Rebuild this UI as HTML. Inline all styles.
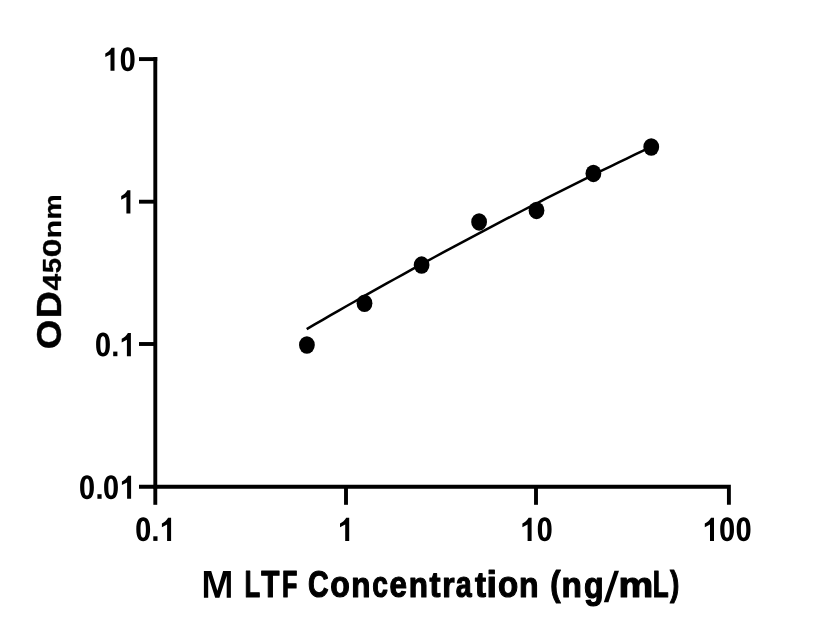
<!DOCTYPE html>
<html>
<head>
<meta charset="utf-8">
<style>
html,body{margin:0;padding:0;background:#fff;}
body{width:816px;height:640px;overflow:hidden;}
svg{display:block;will-change:transform;}
text{font-family:"Liberation Sans",sans-serif;font-weight:bold;fill:#000;}
</style>
</head>
<body>
<svg width="816" height="640" viewBox="0 0 816 640">
<defs>
  <path id="g0" fill-rule="evenodd" d="M0,-11.6 C0,-20.3 2.7,-23.6 6.9,-23.6 C11.1,-23.6 13.8,-20.3 13.8,-11.6 C13.8,-2.9 11.1,0.4 6.9,0.4 C2.7,0.4 0,-2.9 0,-11.6 Z M4.2,-11.6 C4.2,-17.8 5.1,-20.0 6.9,-20.0 C8.7,-20.0 9.6,-17.8 9.6,-11.6 C9.6,-5.4 8.7,-3.2 6.9,-3.2 C5.1,-3.2 4.2,-5.4 4.2,-11.6 Z"/>
  <path id="g1" d="M9.2,0 H5.2 V-16.4 L0,-13.7 V-17.4 C2.2,-18.4 5.0,-20.6 6.2,-23.1 H9.2 Z"/>
  <rect id="gd" x="0" y="-4.6" width="4.2" height="4.6"/>
</defs>
<rect width="816" height="640" fill="#fff"/>
<g stroke="#000" stroke-width="3.9" fill="none" stroke-linecap="butt">
  <path d="M155.3 57.1 V488.7"/>
  <path d="M139 486.7 H728.9 V504.8"/>
  <path d="M139 59.1 H157.2"/>
  <path d="M139 201.7 H155.3"/>
  <path d="M139 344 H155.3"/>
  <path d="M155.3 486.7 V504.8"/>
  <path d="M346 486.7 V504.8"/>
  <path d="M536 486.7 V504.8"/>
</g>
<polyline fill="none" stroke="#000" stroke-width="2.5" points="306.7,329.1 314.7,324.4 322.7,319.8 330.7,315.2 338.7,310.6 346.7,306.0 354.7,301.5 362.7,296.9 370.7,292.4 378.7,287.9 386.7,283.4 394.7,279.0 402.7,274.6 410.7,270.1 418.7,265.7 426.7,261.4 434.7,257.0 442.7,252.7 450.7,248.4 458.7,244.1 466.7,239.8 474.7,235.6 482.7,231.3 490.7,227.1 498.7,222.9 506.7,218.7 514.7,214.6 522.7,210.5 530.7,206.3 538.7,202.3 546.7,198.2 554.7,194.1 562.7,190.1 570.7,186.1 578.7,182.1 586.7,178.1 594.7,174.2 602.7,170.2 610.7,166.3 618.7,162.4 626.7,158.6 634.7,154.7 642.7,150.9 650.7,147.1 651.2,146.8"/>
<g fill="#000">
  <ellipse cx="306.9" cy="345.0" rx="7.9" ry="8.75"/>
  <ellipse cx="364.5" cy="303.3" rx="7.9" ry="8.75"/>
  <ellipse cx="421.6" cy="265.1" rx="7.9" ry="8.75"/>
  <ellipse cx="479.1" cy="221.9" rx="7.9" ry="8.75"/>
  <ellipse cx="536.5" cy="210.4" rx="7.9" ry="8.75"/>
  <ellipse cx="593.4" cy="173.4" rx="7.9" ry="8.75"/>
  <ellipse cx="651.25" cy="147.0" rx="7.9" ry="8.75"/>
</g>
<g fill="#000">
  <use href="#g1" x="105.3" y="70.8"/>
  <use href="#g0" x="120.8" y="70.8"/>
  <use href="#g1" x="121.2" y="213.4"/>
  <use href="#g0" x="96.1" y="356.2"/>
  <use href="#gd" x="113.2" y="356.2"/>
  <use href="#g1" x="121.7" y="356.2"/>
  <use href="#g0" x="80.1" y="498.8"/>
  <use href="#gd" x="97.4" y="498.8"/>
  <use href="#g0" x="104.1" y="498.8"/>
  <use href="#g1" x="121.9" y="498.8"/>
  <use href="#g0" x="136.3" y="540.9"/>
  <use href="#gd" x="153.3" y="540.9"/>
  <use href="#g1" x="161.9" y="540.9"/>
  <use href="#g1" x="340.0" y="540.9"/>
  <use href="#g1" x="522.4" y="540.9"/>
  <use href="#g0" x="537.8" y="540.9"/>
  <use href="#g1" x="704.8" y="540.9"/>
  <use href="#g0" x="720.2" y="540.9"/>
  <use href="#g0" x="736.7" y="540.9"/>
</g>
<g font-size="37.2" stroke="#000" stroke-width="1.2" stroke-linejoin="round">
  <text transform="translate(244.60 597.10) scale(0.6900 1.0003)">L</text>
  <text transform="translate(261.35 597.10) scale(0.8007 1.0003)">T</text>
  <text transform="translate(281.92 597.10) scale(0.6775 1.0003)">F</text>
  <text transform="translate(308.09 597.23) scale(0.7680 1.0095)">C</text>
  <text transform="translate(330.17 597.26) scale(0.8612 0.9731)">o</text>
  <text transform="translate(351.33 597.23) scale(0.8453 0.9466)">n</text>
  <text transform="translate(372.25 597.26) scale(0.7599 0.9731)">c</text>
  <text transform="translate(389.38 597.26) scale(0.8453 0.9731)">e</text>
  <text transform="translate(408.63 597.23) scale(0.8453 0.9466)">n</text>
  <text transform="translate(429.43 597.23) scale(0.8912 0.9421)">t</text>
  <text transform="translate(442.32 597.23) scale(0.8530 0.9466)">r</text>
  <text transform="translate(455.82 597.26) scale(0.7701 0.9731)">a</text>
  <text transform="translate(474.93 597.23) scale(0.8912 0.9421)">t</text>
  <text transform="translate(486.47 597.10) scale(1.0152 1.0051)">i</text>
  <text transform="translate(498.04 597.26) scale(0.8898 0.9731)">o</text>
  <text transform="translate(518.91 597.23) scale(0.8610 0.9466)">n</text>
  <text transform="translate(550.35 596.38) scale(0.8377 0.9282)">(</text>
  <text transform="translate(561.44 597.23) scale(0.8975 0.9466)">n</text>
  <text transform="translate(583.90 598.15) scale(0.8639 0.9959)">g</text>
  <text transform="translate(618.45 597.23) scale(1.0502 0.9466)">m</text>
  <text transform="translate(652.78 597.10) scale(0.6998 1.0003)">L</text>
  <text transform="translate(670.02 596.38) scale(0.7522 0.9282)">)</text>
  <path stroke="none" d="M203.9 597.8 V571.1 H211.2 L217.4 590.7 L223.1 571.1 H230.9 V597.8 H226.7 V575.8 L219.4 597.8 H215.2 L208.2 575.8 V597.8 Z"/>
  <path stroke="none" d="M603.8 602.2 H608.4 L619.0 570.8 H614.4 Z"/>
</g>
<g transform="translate(61 0) rotate(-90)" font-size="33.5" stroke="#000" stroke-width="0.4" stroke-linejoin="round">
  <text transform="translate(-349.34 -0.05) scale(1.1404 1.0366)">O</text>
  <text transform="translate(-318.29 -0.20) scale(1.1220 1.0236)">D</text>
  <text transform="translate(-290.57 -0.05) scale(0.8940 0.7719)">4</text>
  <text transform="translate(-273.19 -0.11) scale(0.8261 0.7697)">5</text>
  <text transform="translate(-257.23 -0.01) scale(1.0042 0.7712)">0</text>
  <text transform="translate(-238.29 -0.04) scale(0.8928 0.7103)">n</text>
  <text transform="translate(-219.60 -0.04) scale(0.8455 0.7103)">m</text>
</g>
</svg>
</body>
</html>
